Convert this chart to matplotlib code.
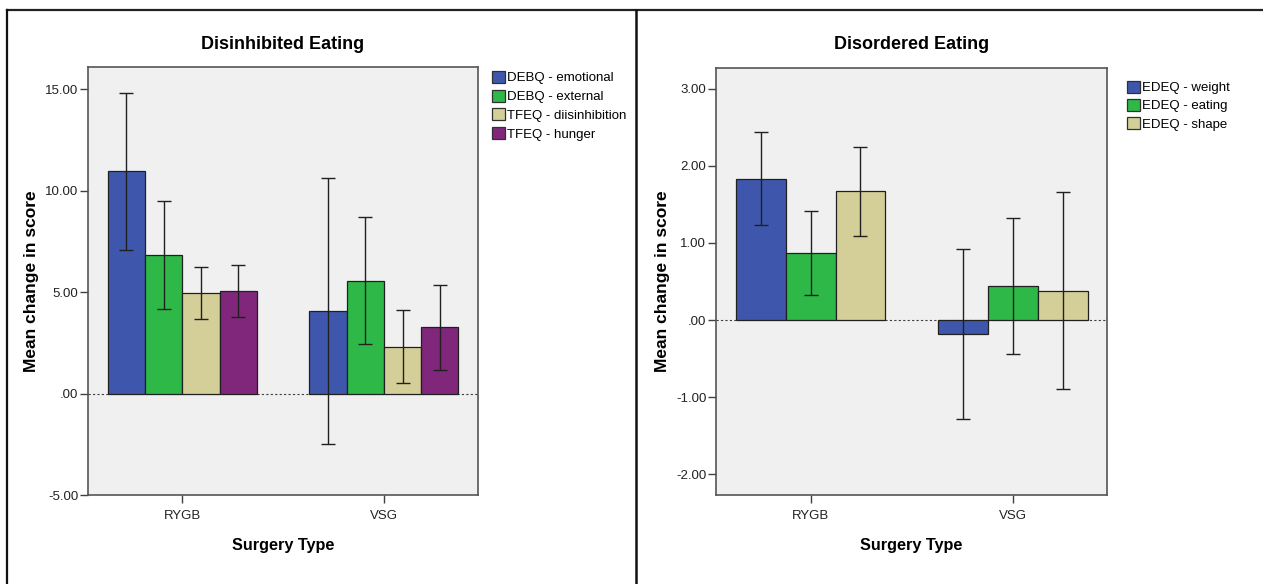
import numpy as np
import matplotlib
matplotlib.use('Agg')
import matplotlib.pyplot as plt
from matplotlib.patches import Patch
from matplotlib.ticker import FuncFormatter

plt.rcParams['font.family'] = ['Liberation Sans', 'DejaVu Sans']

# Data
groups = ['RYGB', 'VSG']

dis_labels = ['DEBQ - emotional', 'DEBQ - external', 'TFEQ - diisinhibition', 'TFEQ - hunger']
dis_means = [[10.95, 4.08], [6.83, 5.57], [4.94, 2.32], [5.05, 3.27]]
dis_err = [[3.87, 6.56], [2.65, 3.13], [1.28, 1.78], [1.28, 2.09]]

ord_labels = ['EDEQ - weight', 'EDEQ - eating', 'EDEQ - shape']
ord_means = [[1.835, -0.18], [0.87, 0.44], [1.67, 0.38]]
ord_err = [[0.60, 1.10], [0.54, 0.88], [0.58, 1.28]]

colors = ['#3E57AC', '#2EB848', '#D4CF98', '#80277B']

W, H = 1263, 584
fig = plt.figure(figsize=(W / 100, H / 100), dpi=100)


def fmt(v, pos):
    s = f"{v:.2f}"
    if s.startswith('0'):
        s = s[1:]
    return s


def panel(rect, title, labels, means, errs, width, ylim, yticks, leg_xy, leg_space, tpad):
    ax = fig.add_axes([rect[0] / W, 1 - rect[3] / H, (rect[2] - rect[0]) / W, (rect[3] - rect[1]) / H])
    ax.set_facecolor('#F0F0F0')
    x = np.arange(len(groups))
    n = len(labels)
    for i in range(n):
        off = (i - (n - 1) / 2) * width
        ax.bar(x + off, means[i], width, color=colors[i], edgecolor='#202020', linewidth=0.9, zorder=2)
        ax.errorbar(x + off, means[i], yerr=errs[i], fmt='none', ecolor='#202020',
                    elinewidth=1.0, capsize=5, capthick=1.0, zorder=3)
    ax.axhline(0, color='#404040', linestyle=(0, (2, 2)), linewidth=0.8, zorder=1)
    ax.set_xlim(-0.468, 1.467)
    ax.set_ylim(*ylim)
    ax.set_yticks(yticks)
    ax.yaxis.set_major_formatter(FuncFormatter(fmt))
    ax.set_xticks(x)
    ax.set_xticklabels(groups)
    ax.tick_params(axis='both', direction='out', length=6, width=1, color='#404040',
                   labelsize=9.5, labelcolor='#222222')
    ax.tick_params(axis='y', pad=1)
    ax.tick_params(axis='x', pad=5)
    for s in ax.spines.values():
        s.set_color('#555555')
        s.set_linewidth(1.2)
    ax.set_title(title, fontsize=13, fontweight='bold', pad=tpad)
    ax.set_xlabel('Surgery Type', fontsize=11.7, fontweight='bold', labelpad=11)
    ax.set_ylabel('Mean change in score', fontsize=12.5, fontweight='bold', labelpad=4)
    handles = [Patch(facecolor=colors[i], edgecolor='#303030', linewidth=0.9) for i in range(n)]
    fig.legend(handles, labels, loc='upper left', bbox_to_anchor=(leg_xy[0] / W, 1 - leg_xy[1] / H),
               frameon=False, fontsize=9.5, handlelength=0.95, handleheight=1.0,
               handletextpad=0.15, labelspacing=leg_space, borderpad=0, borderaxespad=0)
    return ax


panel((88, 67, 478, 495), 'Disinhibited Eating', dis_labels, dis_means, dis_err, 0.185,
      (-5, 16.1), [-5, 0, 5, 10, 15], (492, 71), 0.4, 13)
panel((716, 68, 1107, 495), 'Disordered Eating', ord_labels, ord_means, ord_err, 0.247,
      (-2.27, 3.27), [-2, -1, 0, 1, 2, 3], (1127, 81), 0.35, 14)

# outer frame and divider
fig.add_artist(plt.Line2D([7 / W, 1], [1 - 10 / H, 1 - 10 / H], color='#222222', linewidth=1.6))
fig.add_artist(plt.Line2D([7 / W, 7 / W], [0, 1 - 10 / H], color='#111111', linewidth=1.6))
fig.add_artist(plt.Line2D([636 / W, 636 / W], [0, 1 - 10 / H], color='#111111', linewidth=1.8))

fig.savefig('out.png', dpi=100)
